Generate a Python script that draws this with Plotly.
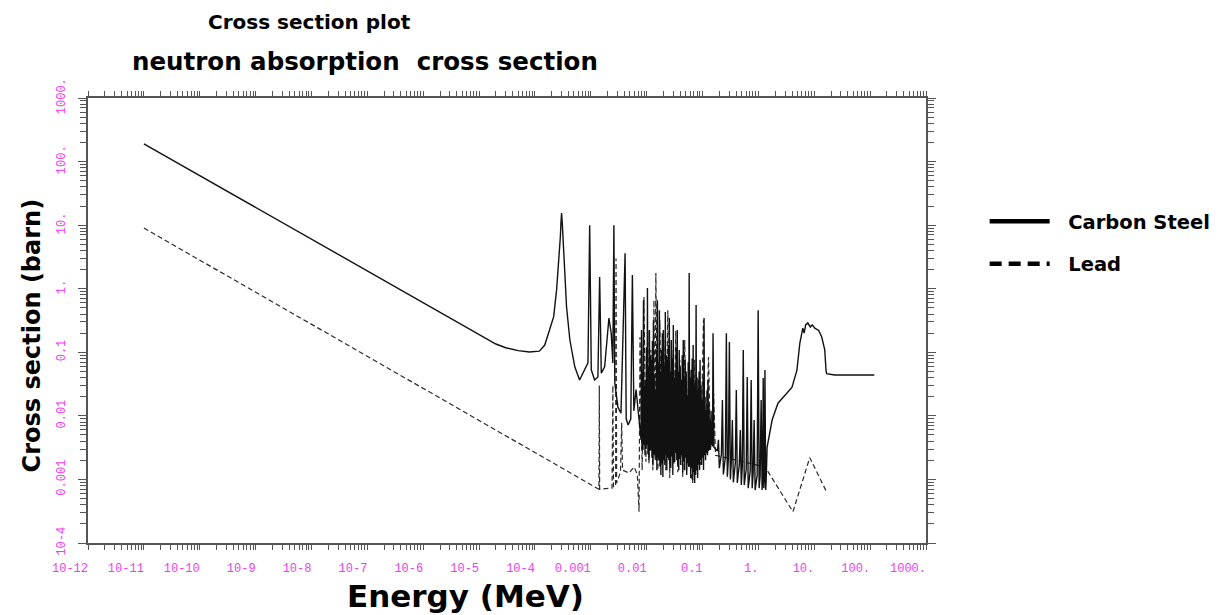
import plotly.graph_objects as go

# ---------------- Carbon steel ----------------
# thermal 1/v branch, Mn resonance and first Fe resonances
cs_low_e = [1.0e-11, 1.0e-5, 2.0e-5, 3.0e-5, 5.0e-5, 8.0e-5, 1.2e-4, 1.5e-4,
            1.84e-4, 2.16e-4, 2.44e-4, 2.6e-4, 2.73e-4, 2.85e-4, 2.92e-4, 3.0e-4,
            3.1e-4, 3.21e-4, 3.3e-4, 3.44e-4, 3.68e-4, 4.22e-4, 5.17e-4, 6.3e-4,
            8.9e-4, 9.55e-4,
            1.02e-3, 1.17e-3, 1.34e-3, 1.44e-3, 1.54e-3, 1.77e-3, 1.95e-3,
            2.11e-3, 2.32e-3, 2.48e-3, 2.59e-3, 2.69e-3, 3.05e-3, 3.47e-3,
            4.11e-3, 4.3e-3, 4.66e-3, 5.2e-3, 5.55e-3, 5.9e-3, 6.46e-3]
cs_low_xs = [190, 0.19, 0.135, 0.118, 0.106, 0.101, 0.104, 0.13,
             0.224, 0.36, 0.95, 1.9, 3.2, 6.5, 10.7, 15.5,
             10.0, 5.8, 3.0, 1.77, 0.515, 0.156, 0.059, 0.0366,
             0.068, 10,
             0.053, 0.0366, 0.041, 1.53, 0.047, 0.059, 0.174,
             0.346, 0.2, 0.068, 10, 0.033, 0.0138, 0.011,
             3.6, 0.009, 0.0072, 0.009, 1.64, 0.012, 0.026]

# dense resonance forest: one valley and one peak per entry
forest_valley_e = [7.93e-3, 8.26e-3, 8.59e-3, 8.95e-3, 9.33e-3, 9.72e-3, 0.01012, 0.01054,
                   0.01099, 0.01145, 0.01192, 0.01242, 0.01294, 0.01348, 0.01406, 0.01465,
                   0.01524, 0.01588, 0.01656, 0.01724, 0.01795, 0.01870, 0.01950, 0.02031,
                   0.02113, 0.02202, 0.02296, 0.02392, 0.02495, 0.02598, 0.02704, 0.02818,
                   0.02938, 0.03059, 0.03184, 0.03318, 0.03459, 0.03602, 0.03750, 0.03909,
                   0.04074, 0.04244, 0.04426, 0.04607, 0.04797, 0.05000, 0.05212, 0.05430,
                   0.05649, 0.05888, 0.06138, 0.06390, 0.06653, 0.06935, 0.07228, 0.07516,
                   0.07830, 0.08166, 0.08504, 0.08851, 0.09225, 0.09616, 0.1002, 0.1042,
                   0.1086, 0.1132, 0.1179, 0.1230, 0.1281, 0.1334, 0.1390, 0.1449, 0.1510]
forest_valley_xs = [0.0042, 0.0030, 0.0029, 0.0035, 0.0024, 0.0030, 0.0035, 0.0025,
                    0.0020, 0.0028, 0.0029, 0.0022, 0.0017, 0.0025, 0.0024, 0.0020,
                    0.0014, 0.0022, 0.0020, 0.0016, 0.00117, 0.0018, 0.00109, 0.0020,
                    0.00169, 0.0025, 0.0014, 0.0022, 0.0020, 0.0016, 0.00151, 0.0023,
                    0.00117, 0.0019, 0.00188, 0.0026, 0.0020, 0.0017, 0.0014, 0.0021,
                    0.00169, 0.0024, 0.00131, 0.0019, 0.0014, 0.0022, 0.00117, 0.0018,
                    0.00157, 0.0016, 0.00105, 0.0015, 0.00098, 0.0013, 0.00088, 0.00117,
                    0.0014, 0.00105, 0.0017, 0.00141, 0.0020, 0.00169, 0.0022, 0.00141,
                    0.0024, 0.0020, 0.0026, 0.0024, 0.0028, 0.0029, 0.0032, 0.00348, 0.0033]
forest_peak_e = [8.09e-3, 8.43e-3, 8.77e-3, 9.14e-3, 9.52e-3, 9.92e-3, 0.01033, 0.01076,
                 0.01122, 0.01169, 0.01217, 0.01268, 0.01321, 0.01376, 0.01435, 0.01495,
                 0.01556, 0.01621, 0.01690, 0.01760, 0.01832, 0.01909, 0.01990, 0.02073,
                 0.02157, 0.02248, 0.02343, 0.02442, 0.02547, 0.02652, 0.02760, 0.02876,
                 0.02999, 0.03122, 0.03250, 0.03387, 0.03531, 0.03677, 0.03828, 0.03990,
                 0.04158, 0.04332, 0.04518, 0.04702, 0.04896, 0.05104, 0.05320, 0.05542,
                 0.05766, 0.06010, 0.06265, 0.06522, 0.06791, 0.07079, 0.07378, 0.07672,
                 0.07992, 0.08335, 0.08680, 0.09034, 0.09416, 0.09815, 0.1023, 0.1064,
                 0.1108, 0.1155, 0.1203, 0.1255, 0.1308, 0.1362, 0.1419, 0.1479, 0.1541]
forest_peak_xs = [0.224, 0.05, 0.66, 0.03, 0.037, 0.12, 1.03, 0.06,
                  0.224, 0.09, 0.076, 0.15, 0.32, 0.045, 0.0255, 0.11,
                  0.66, 0.07, 0.46, 0.05, 0.109, 0.2, 0.224, 0.06,
                  0.43, 0.09, 0.076, 0.13, 0.346, 0.05, 0.156, 0.08,
                  0.268, 0.04, 0.053, 0.12, 0.224, 0.05, 0.109, 0.06,
                  0.037, 0.09, 0.156, 0.04, 0.076, 0.05, 0.0213, 0.07,
                  1.77, 0.04, 0.053, 0.08, 0.13, 0.03, 0.037, 0.555,
                  0.04, 0.0255, 0.05, 0.076, 0.03, 0.0177, 0.04, 0.346,
                  0.02, 0.0124, 0.025, 0.037, 0.015, 0.0086, 0.012, 0.0072, 0.20]

# sparser Fe resonances sitting on the smooth capture baseline
cs_upper_e = [0.160,
              0.1849, 0.1926, 0.200, 0.2178, 0.227, 0.236, 0.2564, 0.267, 0.278,
              0.2904, 0.3025, 0.315, 0.3281, 0.342, 0.356, 0.3864, 0.4025, 0.419,
              0.455, 0.474, 0.494, 0.5144, 0.536, 0.558, 0.6056, 0.631, 0.657,
              0.7131, 0.743, 0.774, 0.8054, 0.839, 0.874, 0.9506, 0.990, 1.03,
              1.074, 1.119, 1.165, 1.19, 1.22, 1.25, 1.28, 1.31, 1.35, 1.38]
cs_upper_xs = [0.0032,
               0.0028, 0.0042, 0.0015, 0.0025, 0.0177, 0.0012, 0.00225, 0.20, 0.0011,
               0.0021, 0.145, 0.0010, 0.00195, 0.0086, 0.0009, 0.00181, 0.0255, 0.00088,
               0.00169, 0.006, 0.00082, 0.00157, 0.109, 0.00082, 0.00146, 0.0408, 0.00073,
               0.00136, 0.0366, 0.00073, 0.00126, 0.0086, 0.00068, 0.00117, 0.46, 0.00073,
               0.00113, 0.0177, 0.00068, 0.00109, 0.0394, 0.00073, 0.00105, 0.0526, 0.00068, 0.0010]

# fast region: inelastic bump and flat tail
cs_fast_e = [1.43, 1.76, 2.24, 3.0, 3.98, 4.89, 5.52, 6.24, 6.6, 7.0, 7.66,
             8.5, 9.2, 10.2, 12.0, 13.6, 15.4, 16.3, 16.7, 23.0, 119.0]
cs_fast_xs = [0.0032, 0.0086, 0.0158, 0.021, 0.028, 0.052, 0.14, 0.24, 0.20, 0.27, 0.29,
              0.25, 0.27, 0.24, 0.22, 0.174, 0.109, 0.05, 0.046, 0.044, 0.044]

# ---------------- Lead ----------------
pb_low_e = [1.0e-11, 1.40e-3, 1.42e-3, 1.44e-3, 2.40e-3, 2.48e-3, 2.55e-3, 2.78e-3,
            2.83e-3, 2.90e-3, 3.4e-3, 3.57e-3, 3.7e-3, 4.85e-3, 5.95e-3, 6.8e-3]
pb_low_xs = [9.0, 7.0e-4, 0.03, 7.0e-4, 7.3e-4, 0.03, 7.6e-4, 8.0e-4,
             3.0, 8.8e-4, 1.3e-3, 7.8e-3, 1.4e-3, 1.26e-3, 1.57e-3, 1.2e-3]

pb_forest_e = [7.3e-3, 7.6e-3, 8.3e-3, 8.95e-3, 9.7e-3, 0.0105, 0.0110, 0.0119,
               0.0129, 0.0135, 0.0141, 0.0146, 0.0159, 0.0172, 0.0187, 0.0203,
               0.0220, 0.0239, 0.0259, 0.0282, 0.0306, 0.0332, 0.0360, 0.0391,
               0.0442, 0.048, 0.052, 0.0565, 0.0612, 0.0665, 0.0721, 0.0783,
               0.085, 0.0923, 0.104, 0.113, 0.128, 0.139, 0.157, 0.171]
pb_forest_xs = [3.1e-4, 0.174, 1.4e-3, 0.74, 1.9e-3, 0.22, 1.8e-3, 0.11,
                1.4e-3, 0.66, 2.0e-3, 1.77, 1.4e-3, 0.32, 1.7e-3, 0.156,
                1.4e-3, 0.46, 1.05e-3, 0.109, 1.7e-3, 0.22, 1.3e-3, 0.076,
                1.1e-3, 0.156, 1.4e-3, 0.053, 1.4e-3, 8.8e-4, 0.076, 1.4e-3,
                0.037, 1.7e-3, 0.32, 2.4e-3, 0.084, 2.9e-3, 0.023, 2.4e-3]

pb_fast_e = [1.32, 4.15, 8.3, 16.7]
pb_fast_xs = [1.57e-3, 3.1e-4, 2.2e-3, 6.3e-4]

# ---------------- axis ticks ----------------
x_tick_vals = [10.0 ** k for k in range(-12, 4)]
x_tick_text = ["10-12", "10-11", "10-10", "10-9", "10-8", "10-7", "10-6", "10-5",
               "10-4", "0.001", "0.01", "0.1", "1.", "10.", "100.", "1000."]
y_tick_vals = [10.0 ** k for k in range(-4, 4)]
y_tick_text = ["10-4", "0.001", "0.01", "0.1", "1.", "10.", "100.", "1000."]

# interleave the forest valleys and peaks
forest_e, forest_xs = [], []
for ve, vx, pe, px in zip(forest_valley_e, forest_valley_xs, forest_peak_e, forest_peak_xs):
    forest_e += [ve, pe]
    forest_xs += [vx, px]

cs_e = cs_low_e + forest_e + cs_upper_e + cs_fast_e
cs_xs = cs_low_xs + forest_xs + cs_upper_xs + cs_fast_xs
pb_e = pb_low_e + pb_forest_e + pb_fast_e
pb_xs = pb_low_xs + pb_forest_xs + pb_fast_xs

AXIS = "#555555"
TICKFONT = dict(family="Liberation Mono", size=12, color="#f03cf0")


def bold(size):
    return dict(family="DejaVu Sans", size=size, color="black", weight="bold")


fig = go.Figure()
fig.add_trace(go.Scatter(x=pb_e, y=pb_xs, mode="lines", showlegend=False,
                         line=dict(color="#2a2a2a", width=1.2, dash="5px,3px")))
fig.add_trace(go.Scatter(x=cs_e, y=cs_xs, mode="lines", showlegend=False,
                         line=dict(color="#111111", width=1.4)))
# legend entries drawn with heavier strokes
nb = "\u00a0"
fig.add_trace(go.Scatter(x=[None], y=[None], mode="lines", name=nb * 2 + "Carbon Steel",
                         legendgroup="cs", line=dict(color="black", width=4.5)))
fig.add_trace(go.Scatter(x=[None], y=[None], mode="lines", name=nb * 2 + "Lead",
                         legendgroup="pb", line=dict(color="black", width=4.5, dash="12px,7px")))

fig.update_layout(
    width=1228, height=615, autosize=False,
    margin=dict(l=88, r=296, t=98, b=72),
    paper_bgcolor="white", plot_bgcolor="white",
    showlegend=True,
    legend=dict(x=1.07, y=0.675, xanchor="left", yanchor="middle",
                itemwidth=60, traceorder="grouped", tracegroupgap=14,
                font=bold(19.5), bgcolor="rgba(0,0,0,0)"),
    xaxis=dict(type="log", range=[-12, 3], tickmode="array",
               tickvals=x_tick_vals, ticktext=[t.rjust(5, nb) for t in x_tick_text],
               ticks="outside", ticklen=5, tickwidth=1, tickcolor=AXIS,
               showline=True, linecolor=AXIS, linewidth=1.5, mirror="ticks",
               showgrid=False, zeroline=False, tickfont=TICKFONT,
               ticklabelshift=-18, ticklabelstandoff=8,
               minor=dict(ticks="outside", ticklen=5, tickwidth=1, tickcolor=AXIS,
                          dtick="D1", showgrid=False)),
    yaxis=dict(type="log", range=[-4, 3], tickmode="array",
               tickvals=y_tick_vals, ticktext=y_tick_text, tickangle=-90,
               ticks="outside", ticklen=8, tickwidth=1, tickcolor=AXIS,
               showline=True, linecolor=AXIS, linewidth=1.5, mirror="ticks",
               showgrid=False, zeroline=False, tickfont=TICKFONT,
               ticklabelstandoff=8,
               minor=dict(ticks="outside", ticklen=6, tickwidth=1, tickcolor=AXIS,
                          dtick="D1", showgrid=False)),
    annotations=[
        dict(text="Cross section plot", xref="paper", yref="paper",
             x=(207 - 88) / 844, y=1 + (98 - 22) / 445, xanchor="left", yanchor="middle",
             showarrow=False, font=bold(20)),
        dict(text="neutron absorption  cross section", xref="paper", yref="paper",
             x=(130 - 88) / 844, y=1 + (98 - 62) / 445, xanchor="left", yanchor="middle",
             showarrow=False, font=bold(24.5)),
        dict(text="Cross section (barn)", xref="paper", yref="paper",
             x=(32 - 88) / 844, y=1 - (335 - 98) / 445, xanchor="center", yanchor="middle",
             textangle=-90, showarrow=False, font=bold(24)),
        dict(text="Energy (MeV)", xref="paper", yref="paper",
             x=(468 - 88) / 844, y=1 - (596 - 98) / 445, xanchor="center", yanchor="middle",
             showarrow=False, font=bold(31)),
    ],
)

fig.write_html("out.html")
